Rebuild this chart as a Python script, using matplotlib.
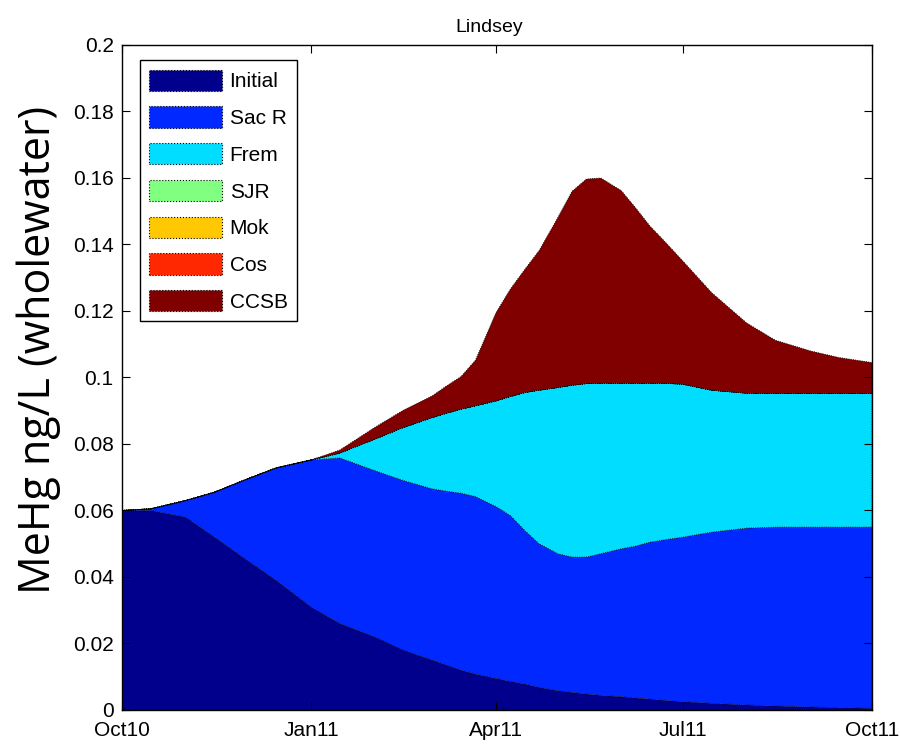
import matplotlib
matplotlib.use("Agg")
import matplotlib.pyplot as plt
import pandas as pd
from matplotlib.patches import Patch

# samples (denser around the CCSB peak)
dates = ["2010-10-01", "2010-10-15", "2010-11-01", "2010-11-15", "2010-12-01",
         "2010-12-15", "2011-01-01", "2011-01-15", "2011-02-01", "2011-02-15",
         "2011-03-01", "2011-03-08", "2011-03-15", "2011-03-22", "2011-04-01",
         "2011-04-08", "2011-04-15", "2011-04-22", "2011-05-01", "2011-05-08",
         "2011-05-15", "2011-05-22", "2011-06-01", "2011-06-08", "2011-06-15",
         "2011-06-22", "2011-07-01", "2011-07-15", "2011-08-01", "2011-08-15",
         "2011-09-01", "2011-09-15", "2011-10-01"]

initial = [0.060, 0.060, 0.058, 0.052, 0.045, 0.039, 0.031, 0.026, 0.022, 0.018,
           0.015, 0.0135, 0.012, 0.0108, 0.0095, 0.0086, 0.0078, 0.0068, 0.0058, 0.0053,
           0.0048, 0.0044, 0.0040, 0.0036, 0.0033, 0.0029, 0.0025, 0.0020, 0.0015, 0.0012,
           0.0009, 0.0007, 0.0005]
sac_r = [0.000, 0.0005, 0.005, 0.0135, 0.0245, 0.0338, 0.0442, 0.0498, 0.0500, 0.0510,
         0.0515, 0.0523, 0.0532, 0.0534, 0.0517, 0.0499, 0.0462, 0.0432, 0.0412, 0.0407,
         0.0412, 0.0426, 0.0445, 0.0457, 0.0472, 0.0483, 0.0495, 0.0515, 0.0532, 0.0538,
         0.0541, 0.0543, 0.0545]
frem = [0.0, 0.0, 0.0, 0.0, 0.0, 0.0, 0.0, 0.0015, 0.0095, 0.0160,
        0.0215, 0.0235, 0.0253, 0.0273, 0.0318, 0.0358, 0.0415, 0.0462, 0.0500, 0.0517,
        0.0522, 0.0513, 0.0498, 0.0490, 0.0478, 0.0471, 0.0460, 0.0427, 0.0406, 0.0402,
        0.0402, 0.0402, 0.0402]
sjr = [0.0] * 33
mok = [0.0] * 33
cos = [0.0] * 33
ccsb = [0.0, 0.0, 0.0, 0.0, 0.0, 0.0, 0.0, 0.0009, 0.0035, 0.0052,
        0.0065, 0.0082, 0.0098, 0.0137, 0.0265, 0.0323, 0.0370, 0.0420, 0.0510, 0.0583,
        0.0615, 0.0617, 0.0579, 0.0527, 0.0472, 0.0427, 0.0370, 0.0293, 0.0211, 0.0160,
        0.0128, 0.0108, 0.0093]

labels = ["Initial", "Sac R", "Frem", "SJR", "Mok", "Cos", "CCSB"]
colors = ["#00008c", "#0028ff", "#00ddff", "#80ff80", "#ffc800", "#ff2800", "#800000"]

tick_dates = ["2010-10-01", "2011-01-01", "2011-04-01", "2011-07-01", "2011-10-01"]
tick_labels = ["Oct10", "Jan11", "Apr11", "Jul11", "Oct11"]

plt.rcParams['font.family'] = ['Liberation Sans', 'DejaVu Sans']

fig = plt.figure(figsize=(9, 7.45), dpi=100)
ax = fig.add_axes([0.1356, 0.047, 0.8333, 0.8926])

x = pd.to_datetime(dates)
ax.stackplot(x, initial, sac_r, frem, sjr, mok, cos, ccsb,
             colors=colors, edgecolor='k', linestyle=':', linewidth=0.6)

ax.set_xlim(pd.Timestamp(tick_dates[0]), pd.Timestamp(tick_dates[-1]))
ax.set_ylim(0, 0.2)
ax.set_xticks(pd.to_datetime(tick_dates))
ax.set_xticklabels(tick_labels)
ax.set_yticks([i * 0.02 for i in range(11)])
ax.set_yticklabels(["0", "0.02", "0.04", "0.06", "0.08", "0.1", "0.12",
                    "0.14", "0.16", "0.18", "0.2"])
ax.tick_params(direction='in', top=True, right=True, labelsize=15, length=6)
ax.tick_params(axis='x', pad=8)
ax.tick_params(axis='y', pad=6)
for s in ax.spines.values():
    s.set_linewidth(1.0)

ax.set_title("Lindsey", fontsize=14, pad=9, x=0.49)

handles = [Patch(facecolor=c, edgecolor='k', linestyle=':', linewidth=0.8) for c in colors]
leg = ax.legend(handles, labels, loc='upper left', bbox_to_anchor=(0.024, 0.977),
                fontsize=15, handlelength=3.5, handleheight=1.2, handletextpad=0.35,
                labelspacing=0.72, borderpad=0.45, borderaxespad=0,
                fancybox=False, framealpha=1)
leg.get_frame().set_edgecolor('k')
leg.get_frame().set_linewidth(1.0)

fig.text(0.0433, 0.530, "MeHg ng/L (wholewater)", rotation=90, va='center', ha='center',
         fontsize=31, family=['Open Sans', 'DejaVu Sans'])

fig.savefig("out.png", dpi=100)
